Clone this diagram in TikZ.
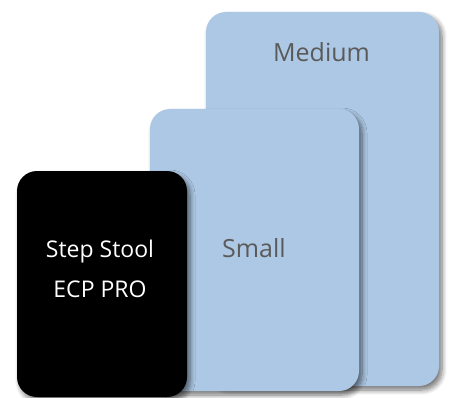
\documentclass[tikz,border=0pt]{standalone}
\usepackage{fontspec}
\setmainfont{Open Sans}
\usetikzlibrary{shadows.blur}
\definecolor{boxblue}{HTML}{ADC8E4}
\definecolor{txtgray}{HTML}{5A5A5A}
\tikzset{
  card/.style={rounded corners=20pt, inner sep=0pt,
    blur shadow={shadow xshift=3pt, shadow yshift=-4pt, shadow blur steps=8, shadow blur radius=5pt, shadow opacity=55}},
  bluecard/.style={card, fill=boxblue},
  blackcard/.style={card, fill=black},
  lbl/.style={font=\fontsize{25}{40}\selectfont, inner sep=0pt, anchor=base}
}
\begin{document}
\begin{tikzpicture}[x=1pt, y=-1pt]
\useasboundingbox (0,0) rectangle (449,398);
\node[bluecard, minimum width=233pt, minimum height=374pt] (medium) at (322.5,199) {};
\node[lbl, text=txtgray] (mediumlbl) at (321.5,62) {Medium};
\node[bluecard, minimum width=209pt, minimum height=282pt] (small) at (254.5,250) {};
\node[lbl, text=txtgray] (smalllbl) at (254,257) {Small};
\node[blackcard, minimum width=170pt, minimum height=226pt] (stool) at (102,284) {};
\node[lbl, text=white, align=center, font=\fontsize{23}{40}\selectfont] (stoollbl) at (100,297) {Step Stool\\ECP PRO};
\end{tikzpicture}
\end{document}
